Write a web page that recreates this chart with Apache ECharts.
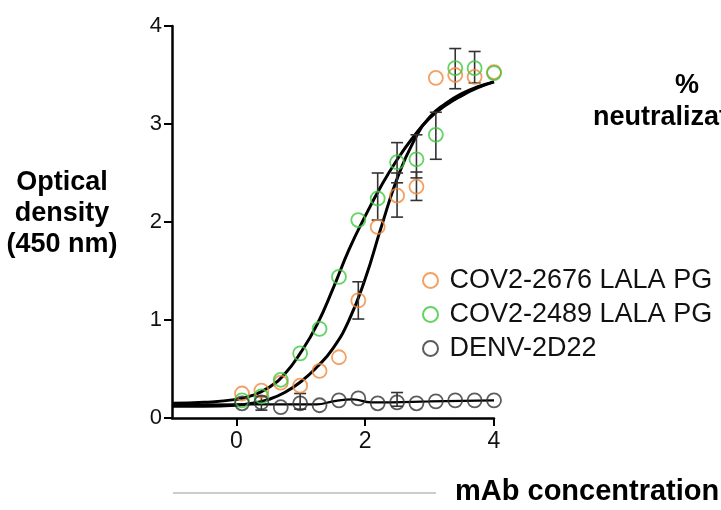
<!DOCTYPE html>
<html>
<head>
<meta charset="utf-8">
<script src="https://cdn.jsdelivr.net/npm/echarts@6/dist/echarts.min.js"></script>
<style>
  html, body { margin: 0; padding: 0; background: #fff; }
  #chart { width: 721px; height: 510px; }
</style>
</head>
<body>
<div id="chart"></div>
<script>
// log10 mAb concentration (two-fold dilutions)
var doses = [0.087, 0.388, 0.689, 0.990, 1.291, 1.592, 1.893, 2.194, 2.495, 2.796, 3.097, 3.398, 3.699, 4.0];

// mean OD450
var od2676 = [0.25, 0.28, 0.36, 0.33, 0.48, 0.62, 1.20, 1.95, 2.27, 2.36, 3.47, 3.50, 3.48, 3.53];
var od2489 = [0.18, 0.22, 0.39, 0.66, 0.91, 1.44, 2.02, 2.24, 2.61, 2.64, 2.89, 3.57, 3.57, 3.52];
var odDenv = [0.15, 0.16, 0.11, 0.15, 0.13, 0.18, 0.20, 0.15, 0.16, 0.15, 0.17, 0.18, 0.18, 0.18];

// error bars: [x, low, high]
var err2676 = [[1.893, 1.01, 1.39], [2.495, 2.05, 2.50], [2.796, 2.22, 2.51]];
var err2489 = [[2.194, 2.02, 2.50], [2.495, 2.40, 2.81], [2.796, 2.45, 2.89], [3.097, 2.64, 3.12], [3.398, 3.36, 3.77], [3.699, 3.42, 3.74]];
var errDenv = [[0.388, 0.08, 0.22], [0.990, 0.09, 0.25], [2.495, 0.12, 0.26]];

// fitted curves
var fitX = [-1, -0.5, 0, 0.25, 0.5, 0.75, 1.0, 1.25, 1.5, 1.75, 2.0, 2.25, 2.5, 2.75, 3.0, 3.25, 3.5, 3.75, 4.0];
var fit2676 = [0.12, 0.12, 0.13, 0.15, 0.19, 0.26, 0.37, 0.52, 0.71, 1.00, 1.42, 1.95, 2.45, 2.82, 3.07, 3.21, 3.31, 3.38, 3.43];
var fit2489 = [0.15, 0.16, 0.19, 0.23, 0.31, 0.45, 0.67, 0.95, 1.32, 1.72, 2.06, 2.37, 2.64, 2.87, 3.06, 3.19, 3.29, 3.37, 3.43];
var fitDenvX = [-1, 0, 0.5, 1.0, 1.25, 1.5, 1.8, 2.1, 2.4, 3.0, 4.0];
var fitDenv = [0.13, 0.14, 0.14, 0.14, 0.14, 0.17, 0.19, 0.16, 0.16, 0.17, 0.18];

var xTicks = [0, 2, 4];
var names = ['COV2-2676 LALA PG', 'COV2-2489 LALA PG', 'DENV-2D22'];
var colors = ['#f08a3c', '#3cc83c', '#333333'];

function pairs(xs, ys) {
    return xs.map(function (x, i) { return [x, ys[i]]; });
}

function errorBars(params, api) {
    var x = api.value(0);
    var lo = api.coord([x, api.value(1)]);
    var hi = api.coord([x, api.value(2)]);
    var w = 6;
    var st = { stroke: '#333', lineWidth: 1.6 };
    return {
        type: 'group',
        children: [
            { type: 'line', shape: { x1: lo[0], y1: lo[1], x2: hi[0], y2: hi[1] }, style: st },
            { type: 'line', shape: { x1: lo[0] - w, y1: lo[1], x2: lo[0] + w, y2: lo[1] }, style: st },
            { type: 'line', shape: { x1: hi[0] - w, y1: hi[1], x2: hi[0] + w, y2: hi[1] }, style: st }
        ]
    };
}

function fitLine(xs, ys, width) {
    return {
        type: 'line',
        data: pairs(xs, ys),
        smooth: true,
        symbol: 'none',
        silent: true,
        lineStyle: { color: '#000', width: width },
        z: 2
    };
}

function dots(i, ys) {
    return {
        name: names[i],
        type: 'scatter',
        data: pairs(doses, ys),
        symbol: 'circle',
        symbolSize: 14,
        itemStyle: { color: 'rgba(255,255,255,0)', borderColor: colors[i], borderWidth: 1.8 },
        z: 4
    };
}

function errs(data) {
    return { type: 'custom', data: data, renderItem: errorBars, silent: true, z: 3 };
}

var chart = echarts.init(document.getElementById('chart'));
chart.setOption({
    animation: false,
    backgroundColor: '#fff',
    textStyle: { fontFamily: 'Liberation Sans, Arial, sans-serif' },
    grid: { left: 172, top: 26, right: 227, bottom: 92 },
    xAxis: {
        type: 'value',
        min: -1,
        max: 4,
        interval: 1,
        splitLine: { show: false },
        axisLine: { onZero: false, lineStyle: { color: '#000', width: 2.5 } },
        axisTick: { customValues: xTicks, length: 8, lineStyle: { color: '#000', width: 2 } },
        axisLabel: { customValues: xTicks, margin: 12, fontSize: 23, color: '#111' }
    },
    yAxis: {
        type: 'value',
        min: 0,
        max: 4,
        interval: 1,
        splitLine: { show: false },
        axisLine: { show: true, onZero: false, lineStyle: { color: '#000', width: 2.5 } },
        axisTick: { show: true, length: 8, lineStyle: { color: '#000', width: 2 } },
        axisLabel: { margin: 10, fontSize: 22, color: '#111' }
    },
    legend: {
        data: names,
        orient: 'vertical',
        left: 417,
        top: 262,
        itemWidth: 28,
        itemHeight: 15,
        itemGap: 7,
        textStyle: { fontSize: 27, lineHeight: 27, color: '#111' }
    },
    graphic: [
        { type: 'text', x: 62, y: 167, style: { text: 'Optical\ndensity\n(450 nm)', font: 'bold 27px Liberation Sans, Arial', lineHeight: 31, align: 'center', fill: '#000' } },
        { type: 'text', x: 687, y: 72, style: { text: '%', font: 'bold 27px Liberation Sans, Arial', align: 'center', fill: '#000' } },
        { type: 'text', x: 593, y: 104, style: { text: 'neutralization', font: 'bold 27px Liberation Sans, Arial', fill: '#000' } },
        { type: 'line', shape: { x1: 173, y1: 493, x2: 436, y2: 493 }, style: { stroke: '#999', lineWidth: 1 } },
        { type: 'text', x: 455, y: 477, style: { text: 'mAb concentration', font: 'bold 29px Liberation Sans, Arial', fill: '#000' } }
    ],
    series: [
        fitLine(fitX, fit2489, 3),
        fitLine(fitX, fit2676, 3),
        fitLine(fitDenvX, fitDenv, 2.2),
        errs(err2676),
        errs(err2489),
        errs(errDenv),
        dots(0, od2676),
        dots(1, od2489),
        dots(2, odDenv)
    ]
});
</script>
</body>
</html>
